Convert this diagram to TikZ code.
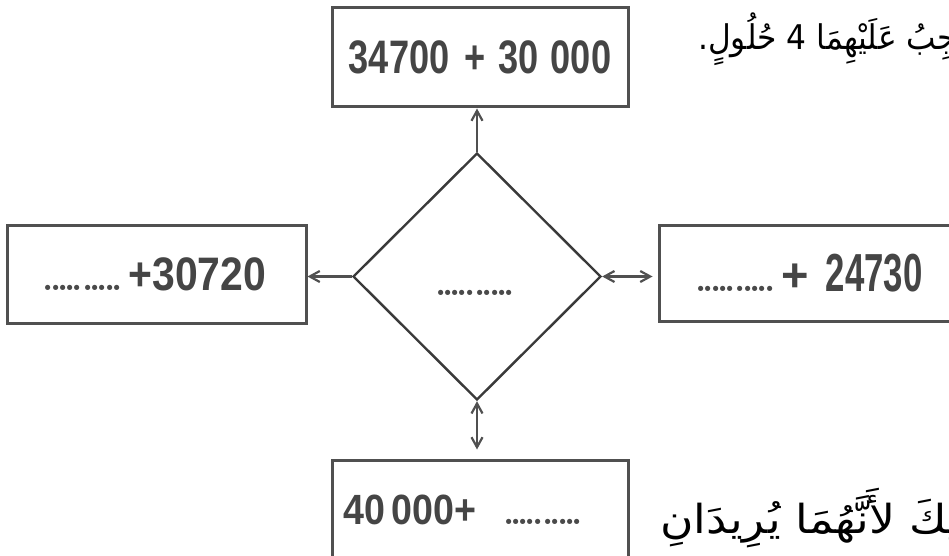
\documentclass[tikz,border=0pt]{standalone}
\usepackage{fontspec}
\usepackage{graphicx}
\usetikzlibrary{shapes.geometric,arrows.meta}
\newfontfamily\numfont{Liberation Sans}
\newfontfamily\arabicfont[Script=Arabic]{DejaVu Sans}
\TeXXeTstate=1
\definecolor{numc}{HTML}{454545}
\definecolor{boxc}{HTML}{505050}
\definecolor{diac}{HTML}{3a3a3a}
\definecolor{arrc}{HTML}{505050}
\definecolor{dotc}{HTML}{4a4a4a}
\newcommand\dotgrp{.\kern-4pt.\kern-4pt.\kern-4pt.\kern-4pt.}
\newcommand\dotrow{{\color{dotc}\normalfont\bfseries\fontsize{36}{36}\selectfont\dotgrp\kern-1pt\dotgrp}}
\tikzset{
  numbox/.style={draw=boxc, line width=3pt, rectangle, inner sep=0pt, text=numc,
    font=\numfont\fontsize{47}{47}\selectfont\bfseries},
  dia/.style={draw=diac, line width=2.4pt, shape=diamond, inner sep=0pt,
    minimum width=248pt, minimum height=247pt},
  tip/.tip={Straight Barb[length=10pt,width=11pt]},
  arr/.style={draw=arrc, line width=2.2pt, -tip},
  arrboth/.style={draw=arrc, line width=2.2pt, tip-tip},
  dottxt/.style={inner sep=0pt},
  arab/.style={font=\arabicfont\fontsize{40}{46}\selectfont, inner sep=0pt, text=black},
  arabtop/.style={font=\arabicfont\fontsize{34}{40}\selectfont, inner sep=0pt, text=black},
}
\begin{document}
\begin{tikzpicture}[x=1pt,y=-1pt]
\useasboundingbox (0,0) rectangle (949,556);
\clip (0,0) rectangle (949,556);
\fill[white] (0,0) rectangle (949,556);

% boxes
\node[numbox, minimum width=296pt, minimum height=99pt] (top) at (480,57.5)
  {\scalebox{0.77}[1]{34700\hspace{20pt}+\hspace{16pt}30\hspace{16pt}000}};
\node[numbox, minimum width=299pt, minimum height=98pt] (left) at (156.5,274)
  {\dotrow\hspace{6pt}\scalebox{0.87}[1]{+30720}\hspace*{4pt}};
\node[numbox, minimum width=300pt, minimum height=96pt] (right) at (809,273)
  {\dotrow\hspace{6pt}+\hspace{17pt}\scalebox{0.74}[1.14]{24730}};
\node[numbox, minimum width=296pt, minimum height=100pt] (bot) at (480,510)
  {\scalebox{0.8}[0.9]{40\hspace{8pt}000+}\hspace{27pt}\dotrow\hspace*{34pt}};

% diamond
\node[dia] (dia) at (477,276.5) {};
\node[dottxt] (diadots) at (475,293) {\dotrow};

% connectors
\draw[arr] (dia.north) -- (dia.north |- top.south);
\draw[arr] (dia.west) -- (dia.west -| left.east);
\draw[arrboth, shorten >=5pt] (dia.east) -- (dia.east -| right.west);
\draw[arrboth, shorten >=9pt] (dia.south) -- (dia.south |- bot.north);

% Arabic text
\node[arabtop, anchor=base west] (t1) at (698,50)
  {\scalebox{0.92}[1]{\beginR يَجِبُ عَلَيْهِمَا 4 حُلُولٍ.\endR}};
\node[arab, anchor=base west] (t2) at (660,533)
  {\scalebox{1.14}[1]{\beginR ذَلِكَ لأَنَّهُمَا يُرِيدَانِ\endR}};
\end{tikzpicture}
\end{document}
